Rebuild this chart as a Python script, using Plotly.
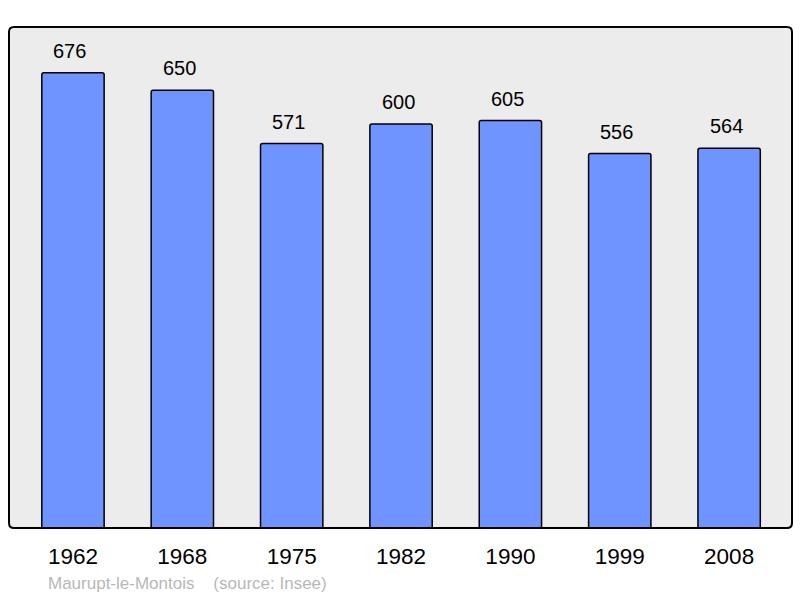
import plotly.graph_objects as go

years = ["1962", "1968", "1975", "1982", "1990", "1999", "2008"]
population = [676, 650, 571, 600, 605, 556, 564]

W, H = 800, 598
L, R, T, B = 9, 8, 27, 70
pw, ph = W - L - R, H - T - B
FONT = "Liberation Sans, Arial, sans-serif"

fig = go.Figure()
fig.add_trace(go.Bar(
    x=list(range(len(years))), y=population,
    width=0.57,
    marker=dict(color="#7094ff", line=dict(color="#000000", width=1.5), cornerradius=2),
    hoverinfo="skip",
))

for i, v in enumerate(population):
    fig.add_annotation(x=i, y=v, text=str(v), showarrow=False, yshift=22, xshift=-3,
                       font=dict(size=20, color="#000000", family=FONT))

fig.add_annotation(xref="paper", yref="paper", x=(46 - L) / pw, y=-(583 - (T + ph)) / ph,
                   xanchor="left", yanchor="middle", showarrow=False,
                   text="Maurupt-le-Montois&nbsp;&nbsp;&nbsp;&nbsp;(source: Insee)",
                   font=dict(size=17, color="#b8b8b8", family=FONT))

# rounded border
rx, ry = 5 / pw, 5 / ph
path = (f"M {rx},0 L {1-rx},0 Q 1,0 1,{ry} L 1,{1-ry} Q 1,1 {1-rx},1 "
        f"L {rx},1 Q 0,1 0,{1-ry} L 0,{ry} Q 0,0 {rx},0 Z")
fig.add_shape(type="path", xref="paper", yref="paper", path=path,
              line=dict(color="#000000", width=2), fillcolor="rgba(0,0,0,0)", layer="above")

fig.update_layout(
    width=W, height=H,
    margin=dict(l=L, r=R, t=T, b=B, autoexpand=False),
    paper_bgcolor="#ffffff", plot_bgcolor="#ececec",
    showlegend=False,
    font=dict(family=FONT, color="#000000"),
    xaxis=dict(range=[-0.585, 6.575], tickmode="array", tickvals=list(range(len(years))),
               ticktext=years, showgrid=False, zeroline=False, showline=False,
               ticks="outside", ticklen=0, ticklabelstandoff=8,
               tickfont=dict(size=22.5, color="#000000")),
    yaxis=dict(range=[0, 744], showgrid=False, zeroline=False, showticklabels=False,
               showline=False, ticks=""),
)

fig.write_html("out.html", config={"displayModeBar": False},
               post_script="document.body.style.margin='0px';")
